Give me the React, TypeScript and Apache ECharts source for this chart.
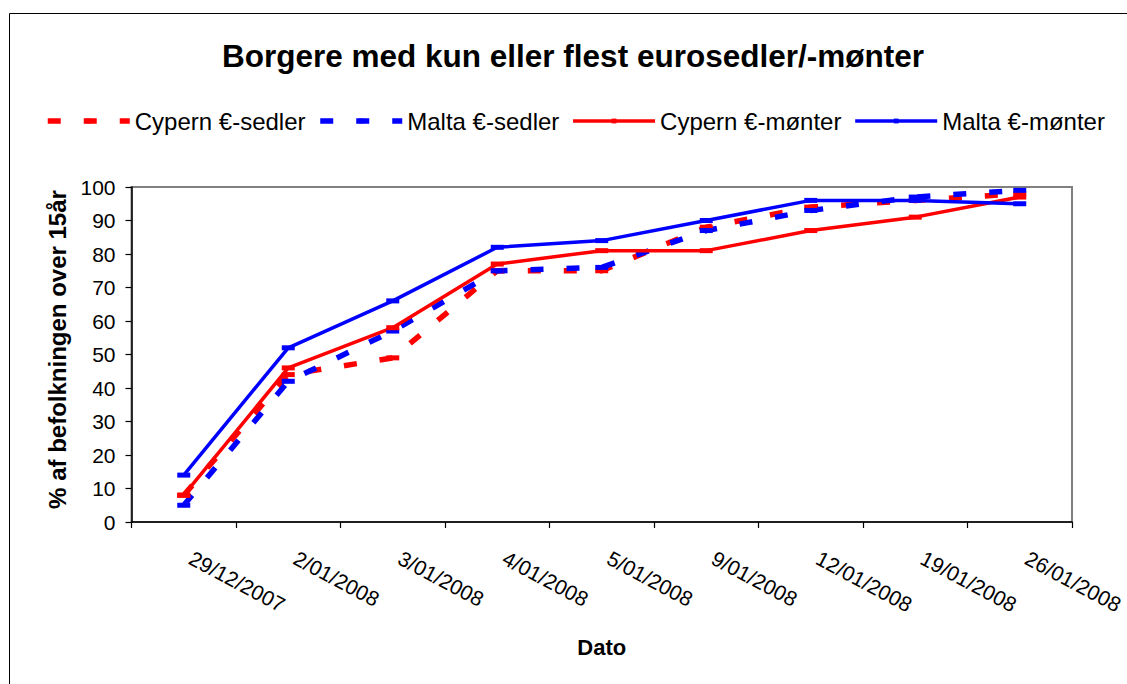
import React, { useEffect, useRef } from "react";
import * as echarts from "echarts";

const categories = [
  "29/12/2007",
  "2/01/2008",
  "3/01/2008",
  "4/01/2008",
  "5/01/2008",
  "9/01/2008",
  "12/01/2008",
  "19/01/2008",
  "26/01/2008",
];
const cypernSedler = [8, 44, 49, 75, 75, 88, 94, 96, 98];
const maltaSedler = [5, 42, 57, 75, 76, 87, 93, 97, 99];
const cypernMonter = [8, 46, 58, 77, 81, 81, 87, 91, 97];
const maltaMonter = [14, 52, 66, 82, 84, 90, 96, 96, 95];

const titleText = "Borgere med kun eller flest eurosedler/-mønter";
const yAxisName = "% af befolkningen over 15år";
const xAxisName = "Dato";

const FONT = "'Liberation Sans', Arial, sans-serif";

export default function App() {
  const ref = useRef<HTMLDivElement>(null);
  useEffect(() => {
    if (!ref.current) return;
    const chart = echarts.init(ref.current, undefined, { renderer: "svg" });
    const dashed = (name: string, data: number[], color: string) => ({
      name,
      type: "line",
      data,
      symbol: "rect",
      symbolSize: [13, 5],
      showSymbol: true,
      itemStyle: { color },
      lineStyle: { color, width: 5.5, type: [13, 23] },
      emphasis: { disabled: true },
    });
    const solid = (name: string, data: number[], color: string) => ({
      name,
      type: "line",
      data,
      symbol: "rect",
      symbolSize: [13, 5],
      showSymbol: true,
      itemStyle: { color },
      lineStyle: { color, width: 3.5, type: "solid" },
      emphasis: { disabled: true },
    });
    chart.setOption({
      animation: false,
      backgroundColor: "#fff",
      textStyle: { fontFamily: FONT },
      title: {
        text: titleText,
        left: 217,
        top: 35,
        textStyle: { fontSize: 31.5, fontWeight: "bold", color: "#000", fontFamily: FONT },
      },
      legend: {
        left: 40,
        top: 104,
        itemWidth: 82,
        itemHeight: 6,
        itemGap: 12,
        lineStyle: { width: "inherit" },
        textStyle: { fontSize: 24, color: "#000", fontFamily: FONT },
        data: ["Cypern €-sedler", "Malta €-sedler", "Cypern €-mønter", "Malta €-mønter"],
      },
      grid: {
        left: 131.5,
        top: 187,
        right: 55,
        bottom: 162,
        containLabel: false,
        outerBoundsMode: "none",
        show: true,
        borderColor: "#808080",
        borderWidth: 2,
        backgroundColor: "#fff",
      },
      xAxis: {
        type: "category",
        data: categories,
        boundaryGap: true,
        name: xAxisName,
        nameLocation: "middle",
        nameGap: 114,
        nameTextStyle: { fontSize: 22, fontWeight: "bold", color: "#000", fontFamily: FONT },
        axisLine: { show: true, lineStyle: { color: "#000", width: 1.5 } },
        axisTick: { show: true, length: 6, interval: 0, lineStyle: { color: "#000", width: 1.2 } },
        axisLabel: {
          interval: 0,
          rotate: -28,
          margin: 31,
          padding: [0, 0, 0, 8],
          fontSize: 21,
          color: "#000",
          fontFamily: FONT,
          hideOverlap: false,
        },
        splitLine: { show: false },
      },
      yAxis: {
        type: "value",
        min: 0,
        max: 100,
        interval: 10,
        name: yAxisName,
        nameLocation: "middle",
        nameGap: 60,
        nameTextStyle: {
          fontSize: 24,
          fontWeight: "bold",
          color: "#000",
          fontFamily: FONT,
          padding: [0, 0, 0, 10],
        },
        axisLine: { show: true, lineStyle: { color: "#000", width: 1.5 } },
        axisTick: { show: true, length: 6, lineStyle: { color: "#000", width: 1.2 } },
        axisLabel: { margin: 16, fontSize: 21, color: "#000", fontFamily: FONT },
        splitLine: { show: false },
      },
      graphic: [
        {
          type: "rect",
          shape: { x: 9.5, y: 13.5, width: 1300, height: 1000 },
          style: { fill: "none", stroke: "#000", lineWidth: 1 },
          silent: true,
          z: 100,
        },
      ],
      series: [
        dashed("Cypern €-sedler", cypernSedler, "#ff0000"),
        dashed("Malta €-sedler", maltaSedler, "#0000ff"),
        solid("Cypern €-mønter", cypernMonter, "#ff0000"),
        solid("Malta €-mønter", maltaMonter, "#0000ff"),
      ],
    });
    return () => chart.dispose();
  }, []);
  return (
    <div
      ref={ref}
      style={{ position: "absolute", left: 0, top: 0, width: 1127, height: 684, background: "#fff" }}
    />
  );
}
